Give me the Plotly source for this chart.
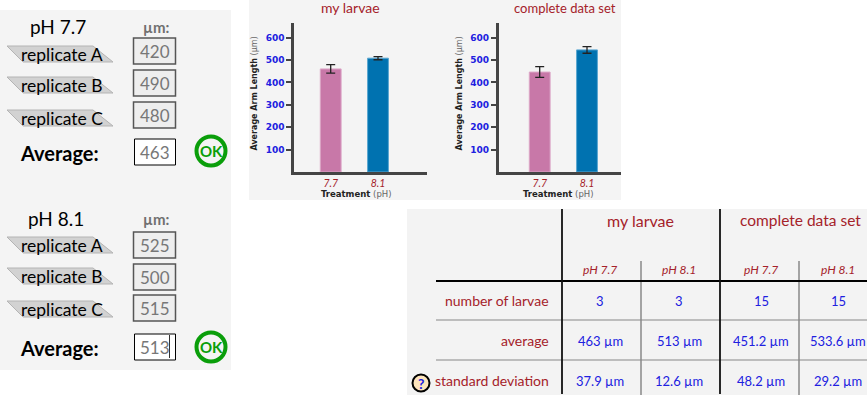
import plotly.graph_objects as go

W, H = 867, 395
FONT = "Lato"
RED = "#a5222a"
BLUE = "#2020e0"

treatments = ["7.7", "8.1"]
my_means = [460, 508]
my_err = [19, 7]
all_means = [446, 545]
all_err = [24, 15]
bar_colors = ["#c878a8", "#0072b0"]
bar_edges = ["#dca6c6", "#5aa6d0"]
y_ticks = [100, 200, 300, 400, 500, 600]

ph77_reps = ["420", "490", "480"]
ph77_avg = "463"
ph81_reps = ["525", "500", "515"]
ph81_avg = "513"
rep_names = ["replicate A", "replicate B", "replicate C"]

table_cols = ["pH 7.7", "pH 8.1", "pH 7.7", "pH 8.1"]
table_rows = ["number of larvae", "average", "standard deviation"]
table_vals = [
    ["3", "3", "15", "15"],
    ["463 µm", "513 µm", "451.2 µm", "533.6 µm"],
    ["37.9 µm", "12.6 µm", "48.2 µm", "29.2 µm"],
]


def px(x):
    return x / W


def py(y):
    return 1 - y / H


shapes = []
annos = []


def rect(x0, y0, x1, y1, fill, line=None, lw=0):
    shapes.append(dict(type="rect", xref="paper", yref="paper", x0=px(x0), x1=px(x1),
                       y0=py(y0), y1=py(y1), fillcolor=fill, layer="below",
                       line=dict(color=line or fill, width=lw)))


def seg(x0, y0, x1, y1, color, lw):
    shapes.append(dict(type="line", xref="paper", yref="paper", x0=px(x0), x1=px(x1),
                       y0=py(y0), y1=py(y1), layer="below", line=dict(color=color, width=lw)))


def text(x, y, s, size, color="#000", anchor="center", family=FONT, angle=0):
    annos.append(dict(x=px(x), y=py(y), xref="paper", yref="paper", text=s, showarrow=False,
                      xanchor=anchor, yanchor="middle", align=anchor, textangle=angle,
                      font=dict(size=size, color=color, family=family)))


def circle(cx, cy, r, fill, line, lw):
    shapes.append(dict(type="circle", xref="paper", yref="paper", x0=px(cx - r), x1=px(cx + r),
                       y0=py(cy - r), y1=py(cy + r), fillcolor=fill,
                       line=dict(color=line, width=lw)))


def ribbon(top):
    bot = top + 16
    path = (f"M {px(7)} {py(top)} L {px(93)} {py(top)} L {px(113)} {py(bot)} "
            f"L {px(23)} {py(bot)} Z")
    shapes.append(dict(type="path", xref="paper", yref="paper", path=path, layer="below",
                       fillcolor="#d2d2d2", line=dict(color="#b4b4b4", width=1)))


def group(title, title_x, title_y, reps, avg, rib_tops, box_tops, avg_y, box_y, ok_y):
    text(title_x, title_y, title, 19)
    text(156, title_y + 1, "<b>µm:</b>", 15, "#707070")
    for name, val, rt, bt in zip(rep_names, reps, rib_tops, box_tops):
        ribbon(rt)
        text(62, rt + 8, name, 17.5)
        rect(133.5, bt, 175.5, bt + 26, "#eeeeee", "#555555", 1.5)
        text(155, bt + 13, val, 17, "#777777")
    text(18, avg_y, "<b>Average:</b>", 20, "#000", "left")
    rect(134.5, box_y, 175.5, box_y + 26, "#ffffff", "#000000", 1)
    text(155, box_y + 13, avg, 17, "#777777")
    circle(211, ok_y, 14.5, "rgba(0,0,0,0)", "#0a9e0a", 4)
    text(211, ok_y, "<b>OK</b>", 15, "#0a9e0a")


# panels
rect(0, 10, 231, 370, "#f4f4f4")
rect(249, 0, 621, 200, "#f4f4f4")
rect(407, 209, 867, 395, "#f3f3f3")

group("pH 7.7", 58, 26, ph77_reps, ph77_avg, [46, 77, 110], [38, 70, 102], 153, 139, 151)
group("pH 8.1", 56, 218, ph81_reps, ph81_avg, [237, 268, 301], [232, 264, 295], 348, 334, 347)
seg(169.5, 335, 169.5, 358, "#333333", 1)

# table
for x in (641, 799):
    seg(x, 261, x, 395, "#888888", 1.5)
for y in (320, 360):
    seg(436, y, 867, y, "#888888", 1.2)
seg(436, 281, 867, 281, "#000000", 1.8)
for x in (562, 720):
    seg(x, 209, x, 394, "#111111", 1.8)
text(640, 220, "my larvae", 16, RED)
text(800, 220, "complete data set", 15.5, RED)
col_x = [600, 679, 761, 838]
row_y = [301, 341, 381]
for cx, c in zip(col_x, table_cols):
    text(cx, 269, f"<i>{c}</i>", 12, RED)
for ry, name, vals in zip(row_y, table_rows, table_vals):
    text(551, ry - 1, name, 14, RED, "right")
    for cx, v in zip(col_x, vals):
        text(cx, ry, v, 13, BLUE)
circle(421, 383, 8.5, "#fde4bc", "#000000", 2)
text(421, 383, "<b>?</b>", 14, BLUE)

# charts
text(350, 8, "my larvae", 14, RED)
text(565, 8, "complete data set", 13, RED)

X_TITLE = "<b>Treatment</b> <span style='color:#666'>(pH)</span>"
Y_TITLE = "<b>Average Arm Length</b> <span style='color:#666'>(µm)</span>"
for tx, ty in ((356, 194), (558, 194)):
    text(tx, ty, X_TITLE, 8.5, "#222222", family="DejaVu Sans")
for tx, ty in ((254, 93.5), (459, 93.5)):
    text(tx, ty, Y_TITLE, 8, "#222222", family="DejaVu Sans", angle=-90)

fig = go.Figure()
charts = [
    ("", my_means, my_err, 294, 427, 330.7),
    ("2", all_means, all_err, 498.5, 621, 539.7),
]
SPACING = 47.3
for suf, means, errs, x0, x1, c0 in charts:
    fig.add_trace(go.Bar(
        x=[0, 1], y=means, width=0.44, xaxis="x" + suf, yaxis="y" + suf,
        marker=dict(color=bar_colors, line=dict(color=bar_edges, width=1)),
        error_y=dict(type="data", array=errs, color="#222222", thickness=1.3, width=4.5),
        showlegend=False, hoverinfo="skip",
    ))
    fig.update_layout({
        "xaxis" + suf: dict(
            domain=[px(x0), px(x1)], anchor="y" + suf,
            range=[(x0 - c0) / SPACING, (x1 - c0) / SPACING],
            tickvals=[0, 1], ticktext=[f"<i>{t}</i>" for t in treatments],
            tickfont=dict(size=10.5, color=RED, family=FONT), ticks="", ticklen=0,
            showgrid=False, zeroline=False, showline=True, linecolor="#444444", linewidth=2.5,
        ),
        "yaxis" + suf: dict(
            domain=[py(172), py(23)], anchor="x" + suf, range=[0, 665],
            tickvals=y_ticks, tickfont=dict(size=9, color=BLUE, family="DejaVu Sans", weight="bold"),
            ticks="outside", ticklen=5, tickwidth=2, tickcolor="#444444",
            showgrid=False, zeroline=False, showline=True, linecolor="#444444", linewidth=2.5,
        ),
    })

fig.update_layout(
    width=W, height=H, margin=dict(l=0, r=0, t=0, b=0), paper_bgcolor="#ffffff",
    plot_bgcolor="rgba(0,0,0,0)", shapes=shapes, annotations=annos, bargap=0.5,
)
fig.write_html("out.html", config={"displayModeBar": False},
               post_script="document.body.style.margin='0';document.documentElement.style.overflow='hidden';")
